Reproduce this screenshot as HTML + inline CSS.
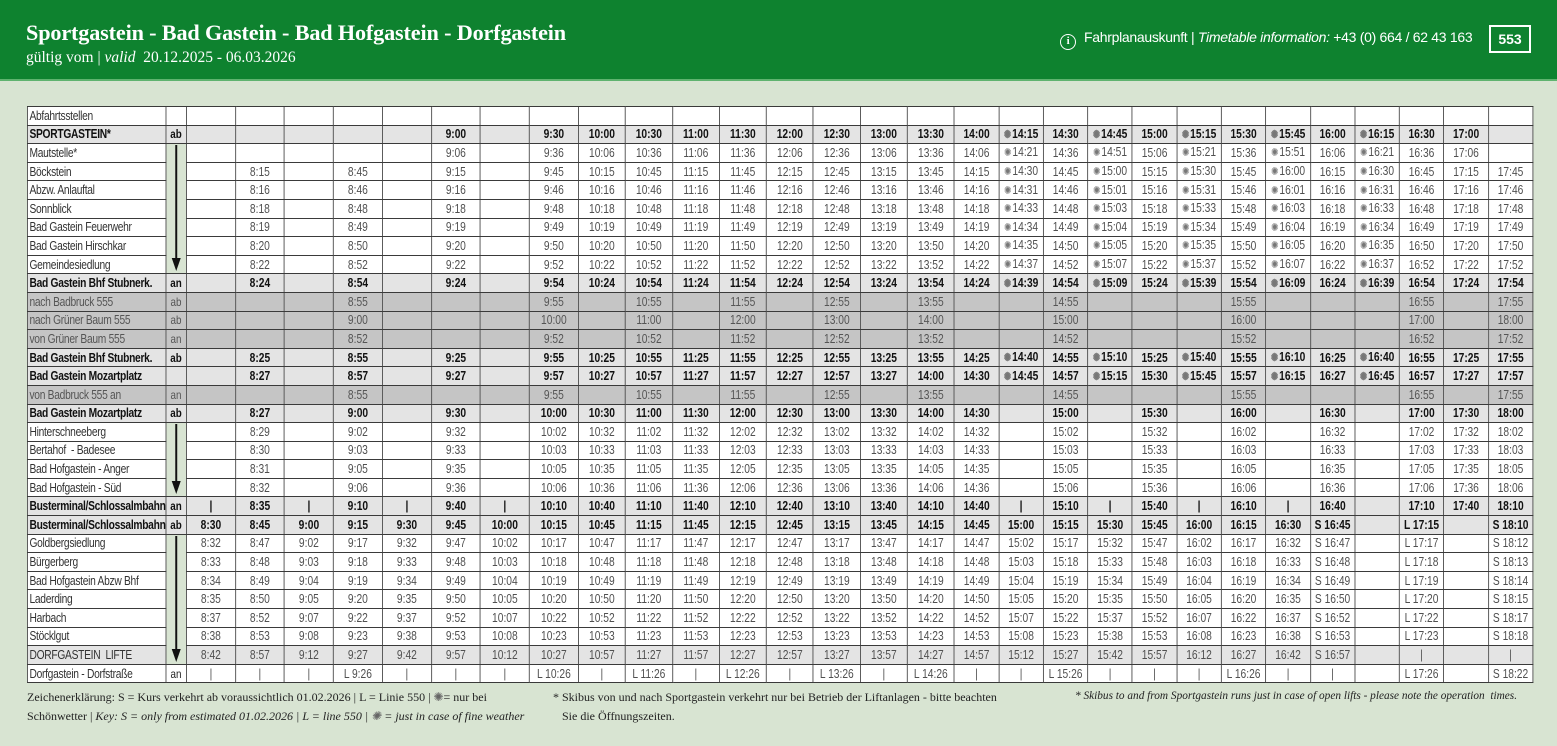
<!DOCTYPE html>
<html><head><meta charset="utf-8">
<style>
*{margin:0;padding:0;box-sizing:border-box}
body{width:1557px;height:746px;background:#d8e4d2;position:relative;overflow:hidden;font-family:"Liberation Sans",sans-serif}
.hd{position:absolute;left:0;top:0;width:1557px;height:81px;background:#0e822f;border-bottom:2px solid #5fb36f}
.t1{position:absolute;left:26px;top:20px;font-family:"Liberation Serif",serif;font-weight:bold;font-size:22.2px;color:#fff;letter-spacing:-0.15px}
.t2{position:absolute;left:26px;top:49px;font-family:"Liberation Serif",serif;font-size:15.5px;color:#fff}
.info{position:absolute;left:1060px;top:29px;font-family:"Liberation Sans",sans-serif;font-size:14px;color:#fff;letter-spacing:-0.3px}
.circ{display:inline-block;width:16px;height:16px;border:1.5px solid #fff;border-radius:50%;font-size:11px;text-align:center;line-height:13px;font-weight:bold;font-family:"Liberation Serif",serif;margin-right:8px;vertical-align:-2px}
.box{position:absolute;left:1489px;top:25px;width:42px;height:28px;border:2px solid #fff;color:#fff;font-family:"Liberation Sans",sans-serif;font-weight:bold;font-size:14px;text-align:center;line-height:24px}
table{position:absolute;left:27px;top:106px;width:1836.6px;border-collapse:collapse;table-layout:fixed;background:#fff;transform:scaleX(0.82);transform-origin:0 0}
td{border:1px solid #3a3a3a;height:18.6px;font-size:12.5px;color:#505050;text-align:center;white-space:nowrap;overflow:hidden;padding:0 1px;line-height:16px}
td:first-child{text-align:left;padding-left:2px;color:#333;letter-spacing:-0.35px}
tr.g td{background:#e4e4e4}
tr.d td{background:#c5c5c5;color:#555}
tr.b td{font-weight:bold;color:#111}
td.a{font-size:12px;color:#222}
td.ar{background:#d8e4d2!important;padding:0;vertical-align:top}
td.ar svg{display:block}
i{font-style:normal;font-size:11px;color:#777;margin-right:1px}
.f{position:absolute;font-family:"Liberation Serif",serif;font-size:12px;color:#222;white-space:nowrap}
.f em{font-style:italic}
</style></head><body>
<div class="hd"></div>
<div class="t1">Sportgastein - Bad Gastein - Bad Hofgastein - Dorfgastein</div>
<div class="t2">gültig vom | <em>valid</em>&nbsp; 20.12.2025 - 06.03.2026</div>
<div class="info"><span class="circ">i</span>Fahrplanauskunft | <em>Timetable information:</em> +43 (0) 664 / 62 43 163</div>
<div class="box">553</div>

<table>
<colgroup><col style="width:168.5px"><col style="width:25.4px">
<col style="width:59.76px"><col style="width:59.76px"><col style="width:59.76px"><col style="width:59.76px"><col style="width:59.76px"><col style="width:59.76px"><col style="width:59.76px"><col style="width:59.76px">
<col style="width:57.32px"><col style="width:57.32px"><col style="width:57.32px"><col style="width:57.32px"><col style="width:57.32px"><col style="width:57.32px"><col style="width:57.32px"><col style="width:57.32px">
<col style="width:54.27px"><col style="width:54.27px"><col style="width:54.27px"><col style="width:54.27px"><col style="width:54.27px"><col style="width:54.27px"><col style="width:54.27px"><col style="width:54.27px"><col style="width:54.27px"><col style="width:54.27px"><col style="width:54.27px"><col style="width:54.27px"><col style="width:54.27px">
</colgroup>
<tr><td>Abfahrtsstellen</td><td></td><td></td><td></td><td></td><td></td><td></td><td></td><td></td><td></td><td></td><td></td><td></td><td></td><td></td><td></td><td></td><td></td><td></td><td></td><td></td><td></td><td></td><td></td><td></td><td></td><td></td><td></td><td></td><td></td><td></td></tr>
<tr class="g b"><td>SPORTGASTEIN*</td><td class="a">ab</td><td></td><td></td><td></td><td></td><td></td><td>9:00</td><td></td><td>9:30</td><td>10:00</td><td>10:30</td><td>11:00</td><td>11:30</td><td>12:00</td><td>12:30</td><td>13:00</td><td>13:30</td><td>14:00</td><td><i>✺</i>14:15</td><td>14:30</td><td><i>✺</i>14:45</td><td>15:00</td><td><i>✺</i>15:15</td><td>15:30</td><td><i>✺</i>15:45</td><td>16:00</td><td><i>✺</i>16:15</td><td>16:30</td><td>17:00</td><td></td></tr>
<tr><td>Mautstelle*</td><td class="ar" rowspan="7"><svg width="24" height="128"><line x1="12" y1="1" x2="12" y2="116" stroke="#111" stroke-width="2.4"/><polygon points="6.5,114 17.5,114 12,127" fill="#111"/></svg></td><td></td><td></td><td></td><td></td><td></td><td>9:06</td><td></td><td>9:36</td><td>10:06</td><td>10:36</td><td>11:06</td><td>11:36</td><td>12:06</td><td>12:36</td><td>13:06</td><td>13:36</td><td>14:06</td><td><i>✺</i>14:21</td><td>14:36</td><td><i>✺</i>14:51</td><td>15:06</td><td><i>✺</i>15:21</td><td>15:36</td><td><i>✺</i>15:51</td><td>16:06</td><td><i>✺</i>16:21</td><td>16:36</td><td>17:06</td><td></td></tr>
<tr><td>Böckstein</td><td></td><td>8:15</td><td></td><td>8:45</td><td></td><td>9:15</td><td></td><td>9:45</td><td>10:15</td><td>10:45</td><td>11:15</td><td>11:45</td><td>12:15</td><td>12:45</td><td>13:15</td><td>13:45</td><td>14:15</td><td><i>✺</i>14:30</td><td>14:45</td><td><i>✺</i>15:00</td><td>15:15</td><td><i>✺</i>15:30</td><td>15:45</td><td><i>✺</i>16:00</td><td>16:15</td><td><i>✺</i>16:30</td><td>16:45</td><td>17:15</td><td>17:45</td></tr>
<tr><td>Abzw. Anlauftal</td><td></td><td>8:16</td><td></td><td>8:46</td><td></td><td>9:16</td><td></td><td>9:46</td><td>10:16</td><td>10:46</td><td>11:16</td><td>11:46</td><td>12:16</td><td>12:46</td><td>13:16</td><td>13:46</td><td>14:16</td><td><i>✺</i>14:31</td><td>14:46</td><td><i>✺</i>15:01</td><td>15:16</td><td><i>✺</i>15:31</td><td>15:46</td><td><i>✺</i>16:01</td><td>16:16</td><td><i>✺</i>16:31</td><td>16:46</td><td>17:16</td><td>17:46</td></tr>
<tr><td>Sonnblick</td><td></td><td>8:18</td><td></td><td>8:48</td><td></td><td>9:18</td><td></td><td>9:48</td><td>10:18</td><td>10:48</td><td>11:18</td><td>11:48</td><td>12:18</td><td>12:48</td><td>13:18</td><td>13:48</td><td>14:18</td><td><i>✺</i>14:33</td><td>14:48</td><td><i>✺</i>15:03</td><td>15:18</td><td><i>✺</i>15:33</td><td>15:48</td><td><i>✺</i>16:03</td><td>16:18</td><td><i>✺</i>16:33</td><td>16:48</td><td>17:18</td><td>17:48</td></tr>
<tr><td>Bad Gastein Feuerwehr</td><td></td><td>8:19</td><td></td><td>8:49</td><td></td><td>9:19</td><td></td><td>9:49</td><td>10:19</td><td>10:49</td><td>11:19</td><td>11:49</td><td>12:19</td><td>12:49</td><td>13:19</td><td>13:49</td><td>14:19</td><td><i>✺</i>14:34</td><td>14:49</td><td><i>✺</i>15:04</td><td>15:19</td><td><i>✺</i>15:34</td><td>15:49</td><td><i>✺</i>16:04</td><td>16:19</td><td><i>✺</i>16:34</td><td>16:49</td><td>17:19</td><td>17:49</td></tr>
<tr><td>Bad Gastein Hirschkar</td><td></td><td>8:20</td><td></td><td>8:50</td><td></td><td>9:20</td><td></td><td>9:50</td><td>10:20</td><td>10:50</td><td>11:20</td><td>11:50</td><td>12:20</td><td>12:50</td><td>13:20</td><td>13:50</td><td>14:20</td><td><i>✺</i>14:35</td><td>14:50</td><td><i>✺</i>15:05</td><td>15:20</td><td><i>✺</i>15:35</td><td>15:50</td><td><i>✺</i>16:05</td><td>16:20</td><td><i>✺</i>16:35</td><td>16:50</td><td>17:20</td><td>17:50</td></tr>
<tr><td>Gemeindesiedlung</td><td></td><td>8:22</td><td></td><td>8:52</td><td></td><td>9:22</td><td></td><td>9:52</td><td>10:22</td><td>10:52</td><td>11:22</td><td>11:52</td><td>12:22</td><td>12:52</td><td>13:22</td><td>13:52</td><td>14:22</td><td><i>✺</i>14:37</td><td>14:52</td><td><i>✺</i>15:07</td><td>15:22</td><td><i>✺</i>15:37</td><td>15:52</td><td><i>✺</i>16:07</td><td>16:22</td><td><i>✺</i>16:37</td><td>16:52</td><td>17:22</td><td>17:52</td></tr>
<tr class="g b"><td>Bad Gastein Bhf Stubnerk.</td><td class="a">an</td><td></td><td>8:24</td><td></td><td>8:54</td><td></td><td>9:24</td><td></td><td>9:54</td><td>10:24</td><td>10:54</td><td>11:24</td><td>11:54</td><td>12:24</td><td>12:54</td><td>13:24</td><td>13:54</td><td>14:24</td><td><i>✺</i>14:39</td><td>14:54</td><td><i>✺</i>15:09</td><td>15:24</td><td><i>✺</i>15:39</td><td>15:54</td><td><i>✺</i>16:09</td><td>16:24</td><td><i>✺</i>16:39</td><td>16:54</td><td>17:24</td><td>17:54</td></tr>
<tr class="d"><td>nach Badbruck 555</td><td class="a">ab</td><td></td><td></td><td></td><td>8:55</td><td></td><td></td><td></td><td>9:55</td><td></td><td>10:55</td><td></td><td>11:55</td><td></td><td>12:55</td><td></td><td>13:55</td><td></td><td></td><td>14:55</td><td></td><td></td><td></td><td>15:55</td><td></td><td></td><td></td><td>16:55</td><td></td><td>17:55</td></tr>
<tr class="d"><td>nach Grüner Baum 555</td><td class="a">ab</td><td></td><td></td><td></td><td>9:00</td><td></td><td></td><td></td><td>10:00</td><td></td><td>11:00</td><td></td><td>12:00</td><td></td><td>13:00</td><td></td><td>14:00</td><td></td><td></td><td>15:00</td><td></td><td></td><td></td><td>16:00</td><td></td><td></td><td></td><td>17:00</td><td></td><td>18:00</td></tr>
<tr class="d"><td>von Grüner Baum 555</td><td class="a">an</td><td></td><td></td><td></td><td>8:52</td><td></td><td></td><td></td><td>9:52</td><td></td><td>10:52</td><td></td><td>11:52</td><td></td><td>12:52</td><td></td><td>13:52</td><td></td><td></td><td>14:52</td><td></td><td></td><td></td><td>15:52</td><td></td><td></td><td></td><td>16:52</td><td></td><td>17:52</td></tr>
<tr class="g b"><td>Bad Gastein Bhf Stubnerk.</td><td class="a">ab</td><td></td><td>8:25</td><td></td><td>8:55</td><td></td><td>9:25</td><td></td><td>9:55</td><td>10:25</td><td>10:55</td><td>11:25</td><td>11:55</td><td>12:25</td><td>12:55</td><td>13:25</td><td>13:55</td><td>14:25</td><td><i>✺</i>14:40</td><td>14:55</td><td><i>✺</i>15:10</td><td>15:25</td><td><i>✺</i>15:40</td><td>15:55</td><td><i>✺</i>16:10</td><td>16:25</td><td><i>✺</i>16:40</td><td>16:55</td><td>17:25</td><td>17:55</td></tr>
<tr class="g b"><td>Bad Gastein Mozartplatz</td><td class="a"></td><td></td><td>8:27</td><td></td><td>8:57</td><td></td><td>9:27</td><td></td><td>9:57</td><td>10:27</td><td>10:57</td><td>11:27</td><td>11:57</td><td>12:27</td><td>12:57</td><td>13:27</td><td>14:00</td><td>14:30</td><td><i>✺</i>14:45</td><td>14:57</td><td><i>✺</i>15:15</td><td>15:30</td><td><i>✺</i>15:45</td><td>15:57</td><td><i>✺</i>16:15</td><td>16:27</td><td><i>✺</i>16:45</td><td>16:57</td><td>17:27</td><td>17:57</td></tr>
<tr class="d"><td>von Badbruck 555 an</td><td class="a">an</td><td></td><td></td><td></td><td>8:55</td><td></td><td></td><td></td><td>9:55</td><td></td><td>10:55</td><td></td><td>11:55</td><td></td><td>12:55</td><td></td><td>13:55</td><td></td><td></td><td>14:55</td><td></td><td></td><td></td><td>15:55</td><td></td><td></td><td></td><td>16:55</td><td></td><td>17:55</td></tr>
<tr class="g b"><td>Bad Gastein Mozartplatz</td><td class="a">ab</td><td></td><td>8:27</td><td></td><td>9:00</td><td></td><td>9:30</td><td></td><td>10:00</td><td>10:30</td><td>11:00</td><td>11:30</td><td>12:00</td><td>12:30</td><td>13:00</td><td>13:30</td><td>14:00</td><td>14:30</td><td></td><td>15:00</td><td></td><td>15:30</td><td></td><td>16:00</td><td></td><td>16:30</td><td></td><td>17:00</td><td>17:30</td><td>18:00</td></tr>
<tr><td>Hinterschneeberg</td><td class="ar" rowspan="4"><svg width="24" height="72"><line x1="12" y1="1" x2="12" y2="60" stroke="#111" stroke-width="2.4"/><polygon points="6.5,58 17.5,58 12,71" fill="#111"/></svg></td><td></td><td>8:29</td><td></td><td>9:02</td><td></td><td>9:32</td><td></td><td>10:02</td><td>10:32</td><td>11:02</td><td>11:32</td><td>12:02</td><td>12:32</td><td>13:02</td><td>13:32</td><td>14:02</td><td>14:32</td><td></td><td>15:02</td><td></td><td>15:32</td><td></td><td>16:02</td><td></td><td>16:32</td><td></td><td>17:02</td><td>17:32</td><td>18:02</td></tr>
<tr><td>Bertahof&nbsp; - Badesee</td><td></td><td>8:30</td><td></td><td>9:03</td><td></td><td>9:33</td><td></td><td>10:03</td><td>10:33</td><td>11:03</td><td>11:33</td><td>12:03</td><td>12:33</td><td>13:03</td><td>13:33</td><td>14:03</td><td>14:33</td><td></td><td>15:03</td><td></td><td>15:33</td><td></td><td>16:03</td><td></td><td>16:33</td><td></td><td>17:03</td><td>17:33</td><td>18:03</td></tr>
<tr><td>Bad Hofgastein - Anger</td><td></td><td>8:31</td><td></td><td>9:05</td><td></td><td>9:35</td><td></td><td>10:05</td><td>10:35</td><td>11:05</td><td>11:35</td><td>12:05</td><td>12:35</td><td>13:05</td><td>13:35</td><td>14:05</td><td>14:35</td><td></td><td>15:05</td><td></td><td>15:35</td><td></td><td>16:05</td><td></td><td>16:35</td><td></td><td>17:05</td><td>17:35</td><td>18:05</td></tr>
<tr><td>Bad Hofgastein - Süd</td><td></td><td>8:32</td><td></td><td>9:06</td><td></td><td>9:36</td><td></td><td>10:06</td><td>10:36</td><td>11:06</td><td>11:36</td><td>12:06</td><td>12:36</td><td>13:06</td><td>13:36</td><td>14:06</td><td>14:36</td><td></td><td>15:06</td><td></td><td>15:36</td><td></td><td>16:06</td><td></td><td>16:36</td><td></td><td>17:06</td><td>17:36</td><td>18:06</td></tr>
<tr class="g b"><td>Busterminal/Schlossalmbahn</td><td class="a">an</td><td>|</td><td>8:35</td><td>|</td><td>9:10</td><td>|</td><td>9:40</td><td>|</td><td>10:10</td><td>10:40</td><td>11:10</td><td>11:40</td><td>12:10</td><td>12:40</td><td>13:10</td><td>13:40</td><td>14:10</td><td>14:40</td><td>|</td><td>15:10</td><td>|</td><td>15:40</td><td>|</td><td>16:10</td><td>|</td><td>16:40</td><td></td><td>17:10</td><td>17:40</td><td>18:10</td></tr>
<tr class="g b"><td>Busterminal/Schlossalmbahn</td><td class="a">ab</td><td>8:30</td><td>8:45</td><td>9:00</td><td>9:15</td><td>9:30</td><td>9:45</td><td>10:00</td><td>10:15</td><td>10:45</td><td>11:15</td><td>11:45</td><td>12:15</td><td>12:45</td><td>13:15</td><td>13:45</td><td>14:15</td><td>14:45</td><td>15:00</td><td>15:15</td><td>15:30</td><td>15:45</td><td>16:00</td><td>16:15</td><td>16:30</td><td>S 16:45</td><td></td><td>L 17:15</td><td></td><td>S 18:10</td></tr>
<tr><td>Goldbergsiedlung</td><td class="ar" rowspan="7"><svg width="24" height="128"><line x1="12" y1="1" x2="12" y2="116" stroke="#111" stroke-width="2.4"/><polygon points="6.5,114 17.5,114 12,127" fill="#111"/></svg></td><td>8:32</td><td>8:47</td><td>9:02</td><td>9:17</td><td>9:32</td><td>9:47</td><td>10:02</td><td>10:17</td><td>10:47</td><td>11:17</td><td>11:47</td><td>12:17</td><td>12:47</td><td>13:17</td><td>13:47</td><td>14:17</td><td>14:47</td><td>15:02</td><td>15:17</td><td>15:32</td><td>15:47</td><td>16:02</td><td>16:17</td><td>16:32</td><td>S 16:47</td><td></td><td>L 17:17</td><td></td><td>S 18:12</td></tr>
<tr><td>Bürgerberg</td><td>8:33</td><td>8:48</td><td>9:03</td><td>9:18</td><td>9:33</td><td>9:48</td><td>10:03</td><td>10:18</td><td>10:48</td><td>11:18</td><td>11:48</td><td>12:18</td><td>12:48</td><td>13:18</td><td>13:48</td><td>14:18</td><td>14:48</td><td>15:03</td><td>15:18</td><td>15:33</td><td>15:48</td><td>16:03</td><td>16:18</td><td>16:33</td><td>S 16:48</td><td></td><td>L 17:18</td><td></td><td>S 18:13</td></tr>
<tr><td>Bad Hofgastein Abzw Bhf</td><td>8:34</td><td>8:49</td><td>9:04</td><td>9:19</td><td>9:34</td><td>9:49</td><td>10:04</td><td>10:19</td><td>10:49</td><td>11:19</td><td>11:49</td><td>12:19</td><td>12:49</td><td>13:19</td><td>13:49</td><td>14:19</td><td>14:49</td><td>15:04</td><td>15:19</td><td>15:34</td><td>15:49</td><td>16:04</td><td>16:19</td><td>16:34</td><td>S 16:49</td><td></td><td>L 17:19</td><td></td><td>S 18:14</td></tr>
<tr><td>Laderding</td><td>8:35</td><td>8:50</td><td>9:05</td><td>9:20</td><td>9:35</td><td>9:50</td><td>10:05</td><td>10:20</td><td>10:50</td><td>11:20</td><td>11:50</td><td>12:20</td><td>12:50</td><td>13:20</td><td>13:50</td><td>14:20</td><td>14:50</td><td>15:05</td><td>15:20</td><td>15:35</td><td>15:50</td><td>16:05</td><td>16:20</td><td>16:35</td><td>S 16:50</td><td></td><td>L 17:20</td><td></td><td>S 18:15</td></tr>
<tr><td>Harbach</td><td>8:37</td><td>8:52</td><td>9:07</td><td>9:22</td><td>9:37</td><td>9:52</td><td>10:07</td><td>10:22</td><td>10:52</td><td>11:22</td><td>11:52</td><td>12:22</td><td>12:52</td><td>13:22</td><td>13:52</td><td>14:22</td><td>14:52</td><td>15:07</td><td>15:22</td><td>15:37</td><td>15:52</td><td>16:07</td><td>16:22</td><td>16:37</td><td>S 16:52</td><td></td><td>L 17:22</td><td></td><td>S 18:17</td></tr>
<tr><td>Stöcklgut</td><td>8:38</td><td>8:53</td><td>9:08</td><td>9:23</td><td>9:38</td><td>9:53</td><td>10:08</td><td>10:23</td><td>10:53</td><td>11:23</td><td>11:53</td><td>12:23</td><td>12:53</td><td>13:23</td><td>13:53</td><td>14:23</td><td>14:53</td><td>15:08</td><td>15:23</td><td>15:38</td><td>15:53</td><td>16:08</td><td>16:23</td><td>16:38</td><td>S 16:53</td><td></td><td>L 17:23</td><td></td><td>S 18:18</td></tr>
<tr class="g"><td>DORFGASTEIN&nbsp; LIFTE</td><td>8:42</td><td>8:57</td><td>9:12</td><td>9:27</td><td>9:42</td><td>9:57</td><td>10:12</td><td>10:27</td><td>10:57</td><td>11:27</td><td>11:57</td><td>12:27</td><td>12:57</td><td>13:27</td><td>13:57</td><td>14:27</td><td>14:57</td><td>15:12</td><td>15:27</td><td>15:42</td><td>15:57</td><td>16:12</td><td>16:27</td><td>16:42</td><td>S 16:57</td><td></td><td>|</td><td></td><td>|</td></tr>
<tr><td>Dorfgastein - Dorfstraße</td><td class="a">an</td><td>|</td><td>|</td><td>|</td><td>L 9:26</td><td>|</td><td>|</td><td>|</td><td>L 10:26</td><td>|</td><td>L 11:26</td><td>|</td><td>L 12:26</td><td>|</td><td>L 13:26</td><td>|</td><td>L 14:26</td><td>|</td><td>|</td><td>L 15:26</td><td>|</td><td>|</td><td>|</td><td>L 16:26</td><td>|</td><td>|</td><td></td><td>L 17:26</td><td></td><td>S 18:22</td></tr>
</table>

<div class="f" style="left:27px;top:690px">Zeichenerklärung: S = Kurs verkehrt ab voraussichtlich 01.02.2026 | L = Linie 550 | <span style="color:#666">✺</span>= nur bei</div>
<div class="f" style="left:27px;top:709px">Schönwetter | <em>Key: S = only from estimated 01.02.2026 | L = line 550 | <span style="color:#666">✺</span> = just in case of fine weather</em></div>
<div class="f" style="left:553px;top:690px">* Skibus von und nach Sportgastein verkehrt nur bei Betrieb der Liftanlagen - bitte beachten</div>
<div class="f" style="left:562px;top:709px">Sie die Öffnungszeiten.</div>
<div class="f" style="left:1075px;top:690px;font-size:11.3px"><em>* Skibus to and from Sportgastein runs just in case of open lifts - please note the operation&nbsp; times.</em></div>
</body></html>
